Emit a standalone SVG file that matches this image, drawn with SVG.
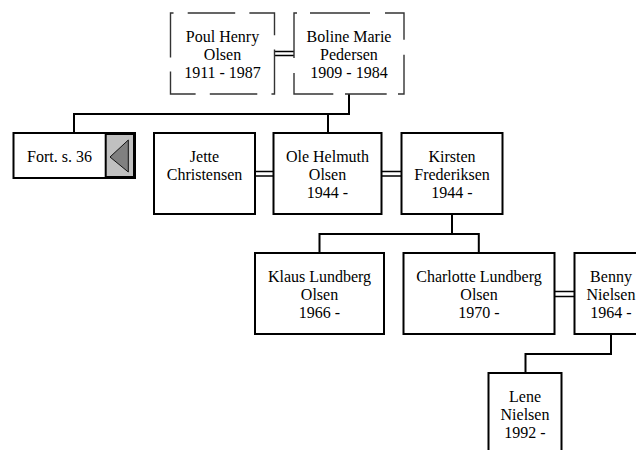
<svg xmlns="http://www.w3.org/2000/svg" width="636" height="450" viewBox="0 0 636 450">
<style>
.box{fill:#fff;stroke:#000;stroke-width:2}
.dash{fill:none;stroke:#333;stroke-width:1.4}
.ln{fill:none;stroke:#000;stroke-width:2}
.dbl{fill:none;stroke:#000;stroke-width:1.6}
text{font-family:"Liberation Serif","Times New Roman",serif;font-size:16px;fill:#000;text-anchor:middle}
</style>
<rect width="636" height="450" fill="#fff"/>
<g id="connectors">
<path class="dbl" d="M274.5,51.5H294M274.5,55.5H294"/>
<path class="ln" d="M349,94V114H74V133M328,114V133"/>
<path class="dbl" d="M255,171.5H273.5M255,176H273.5"/>
<path class="dbl" d="M381.5,171.5H401.5M381.5,176H401.5"/>
<path class="ln" d="M452,214V234M319.5,253V234H478.8V253"/>
<path class="dbl" d="M554.5,291.5H574.5M554.5,296.5H574.5"/>
<path class="ln" d="M611,334V354H525.5V373"/>
</g>
<g id="poul">
<rect class="dash" x="170.5" y="13" width="104" height="81" stroke-dasharray="47.5 14.17" stroke-dashoffset="-17.2"/>
<text x="222.5" y="41.5">Poul Henry</text>
<text x="222.5" y="59.5">Olsen</text>
<text x="222.5" y="77.5">1911 - 1987</text>
</g>
<g id="boline">
<path class="dash" d="M294,58V13H297M310,13H370M385,13H404V39.7M404,54.7V94H398M386.7,94H345M333.3,94H294V73"/>
<text x="349" y="41.5">Boline Marie</text>
<text x="349" y="59.5">Pedersen</text>
<text x="349" y="77.5">1909 - 1984</text>
</g>
<g id="fort">
<rect class="box" x="13.5" y="133" width="121.5" height="45"/>
<rect x="105.7" y="134" width="28.3" height="43" fill="#c0c0c0" stroke="#000" stroke-width="2"/>
<polygon points="110,157 128.3,140 128.3,172" fill="#808080" stroke="#111" stroke-width="1"/>
<text x="59.5" y="161.5">Fort. s. 36</text>
</g>
<g id="jette">
<rect class="box" x="154" y="133" width="101" height="81"/>
<text x="204.5" y="161.5">Jette</text>
<text x="204.5" y="179.5">Christensen</text>
</g>
<g id="ole">
<rect class="box" x="273.5" y="133" width="108" height="81"/>
<text x="327.5" y="161.5">Ole Helmuth</text>
<text x="327.5" y="179.5">Olsen</text>
<text x="327.5" y="197.5">1944 -</text>
</g>
<g id="kirsten">
<rect class="box" x="401.5" y="133" width="101" height="81"/>
<text x="452" y="161.5">Kirsten</text>
<text x="452" y="179.5">Frederiksen</text>
<text x="452" y="197.5">1944 -</text>
</g>
<g id="klaus">
<rect class="box" x="255" y="253" width="129" height="81"/>
<text x="319.5" y="281.5">Klaus Lundberg</text>
<text x="319.5" y="299.5">Olsen</text>
<text x="319.5" y="317.5">1966 -</text>
</g>
<g id="charlotte">
<rect class="box" x="403.5" y="253" width="151" height="81"/>
<text x="479" y="281.5">Charlotte Lundberg</text>
<text x="479" y="299.5">Olsen</text>
<text x="479" y="317.5">1970 -</text>
</g>
<g id="benny">
<rect class="box" x="574.5" y="253" width="73" height="81"/>
<text x="611" y="281.5">Benny</text>
<text x="611" y="299.5">Nielsen</text>
<text x="611" y="317.5">1964 -</text>
</g>
<g id="lene">
<rect class="box" x="488.5" y="373" width="73" height="81"/>
<text x="525" y="401.5">Lene</text>
<text x="525" y="419.5">Nielsen</text>
<text x="525" y="437.5">1992 -</text>
</g>
</svg>
